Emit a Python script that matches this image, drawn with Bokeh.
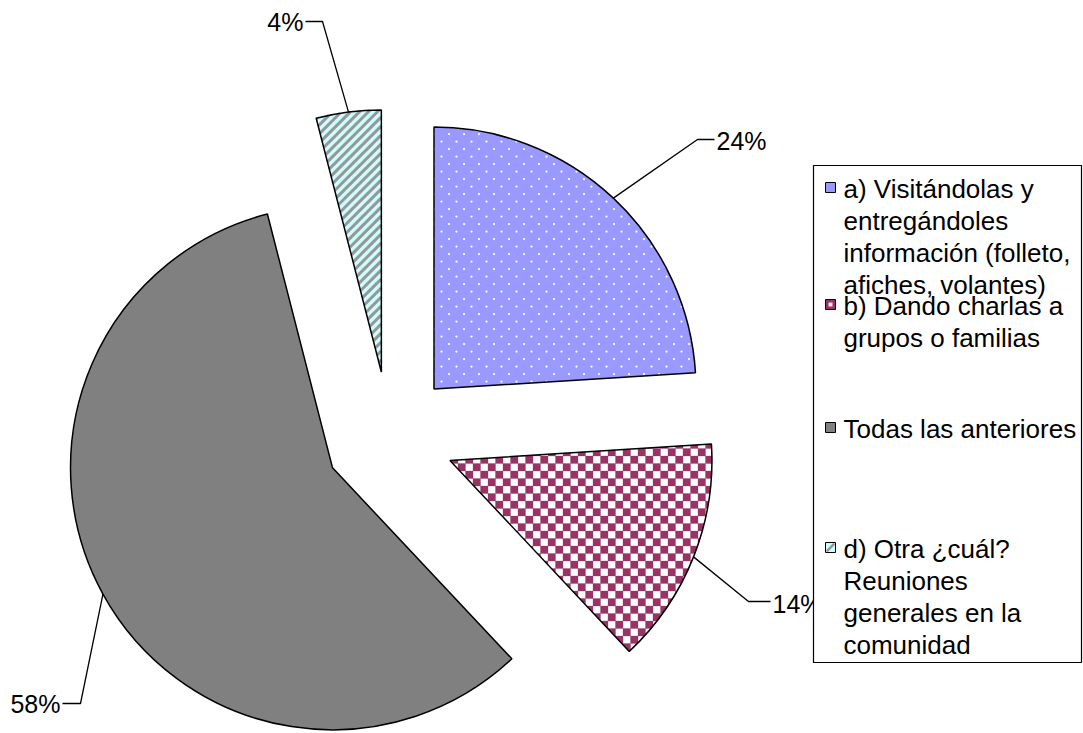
import math

from bokeh.core.properties import value
from bokeh.embed import file_html
from bokeh.models import Range1d
from bokeh.plotting import figure
from bokeh.resources import INLINE

# ---------------------------------------------------------------- data
categories = [
    "a) Visitándolas y entregándoles información (folleto, afiches, volantes)",
    "b) Dando charlas a grupos o familias",
    "Todas las anteriores",
    "d) Otra ¿cuál? Reuniones generales en la comunidad",
]
legend_labels = [
    "a) Visitándolas y\nentregándoles\ninformación (folleto,\nafiches, volantes)",
    "b) Dando charlas a\ngrupos o familias",
    "Todas las anteriores",
    "d) Otra ¿cuál?\nReuniones\ngenerales en la\ncomunidad",
]
percentages = [24, 14, 58, 4]

# ---------------------------------------------------------------- styles
slice_fill = ["#9999FF", "#FFFFFF", "#808080", "#CCFFFF"]
legend_fill = ["#9999FF", "#993366", "#808080", "#CCFFFF"]
slice_texture = ["dots", "checker", None, "stripes"]
texture_color = ["#FFFFFF", "#993366", None, "#979797"]
DOT_STEP = 7.5       # dot rows / half the in-row spacing
CHECK = 7.5          # checker square size
STRIPE_STEP = 9.0    # vertical distance between stripes
STRIPE_W = 3.0

FONT = "Liberation Sans"
LABEL_SIZE = "25px"
LEGEND_SIZE = "26px"

# ---------------------------------------------------------------- layout (pixels from top-left)
W, H = 1083, 733
PIE_CX, PIE_CY = 389, 436
RADIUS = 262
EXPLODE = 65

# leader-line elbow, leader end, and label anchor for each slice
label_elbow = [(697, 139), (748, 601), (80, 703), (322, 21)]
label_end = [(714, 139), (770, 601), (62, 703), (305, 21)]
label_anchor = [(716, 140), (772, 603), (60, 703), (303, 21)]
label_align = ["left", "left", "right", "right"]

LEGEND_BOX = (813, 165, 1081, 662)  # left, top, right, bottom
LEGEND_MARK_X = 830
LEGEND_TEXT_X = 843
LEGEND_ROW_Y = [187, 304, 427, 547]
LINE_H = 28
MARK = 10


def Y(py):
    return H - py


# ---------------------------------------------------------------- geometry helpers
def wedge_polygon(cx, cy, r, a0, a1, n=90):
    pts = [(cx, cy)]
    for k in range(n + 1):
        a = a0 + (a1 - a0) * k / n
        pts.append((cx + r * math.cos(a), cy + r * math.sin(a)))
    return pts


def cross(o, a, b):
    return (a[0] - o[0]) * (b[1] - o[1]) - (a[1] - o[1]) * (b[0] - o[0])


def inside(poly, q):
    n = len(poly)
    return all(cross(poly[i], poly[(i + 1) % n], q) >= 0 for i in range(n))


def clip_polygon(subject, clip):
    out = subject
    n = len(clip)
    for i in range(n):
        a, b = clip[i], clip[(i + 1) % n]
        if not out:
            break
        inp, out = out, []
        for j in range(len(inp)):
            cur, prev = inp[j], inp[j - 1]
            cin, pin = cross(a, b, cur) >= 0, cross(a, b, prev) >= 0
            if cin != pin:
                d1, d2 = cross(a, b, prev), cross(a, b, cur)
                t = d1 / (d1 - d2)
                out.append((prev[0] + t * (cur[0] - prev[0]), prev[1] + t * (cur[1] - prev[1])))
            if cin:
                out.append(cur)
    return out


def clip_segment(p0, p1, clip):
    t0, t1 = 0.0, 1.0
    d = (p1[0] - p0[0], p1[1] - p0[1])
    n = len(clip)
    for i in range(n):
        a, b = clip[i], clip[(i + 1) % n]
        e = (b[0] - a[0], b[1] - a[1])
        f0 = e[0] * (p0[1] - a[1]) - e[1] * (p0[0] - a[0])
        fd = e[0] * d[1] - e[1] * d[0]
        if abs(fd) < 1e-12:
            if f0 < 0:
                return None
            continue
        t = -f0 / fd
        if fd > 0:
            t0 = max(t0, t)
        else:
            t1 = min(t1, t)
        if t0 >= t1:
            return None
    return ((p0[0] + t0 * d[0], p0[1] + t0 * d[1]), (p0[0] + t1 * d[0], p0[1] + t1 * d[1]))


def bbox(poly):
    xs = [q[0] for q in poly]
    ys = [q[1] for q in poly]
    return min(xs), min(ys), max(xs), max(ys)


p = figure(
    width=W, height=H,
    x_range=Range1d(0, W), y_range=Range1d(0, H),
    x_axis_type=None, y_axis_type=None,
    toolbar_location=None, output_backend="svg",
    min_border=0, outline_line_color=None,
)
p.grid.visible = False
p.background_fill_color = "white"
p.border_fill_color = "white"

total = sum(percentages)
cum = 0.0
for i, pct in enumerate(percentages):
    t0 = cum / total * 2 * math.pi          # clockwise from 12 o'clock
    t1 = (cum + pct) / total * 2 * math.pi
    cum += pct
    mid = (t0 + t1) / 2
    # exploded slice centre (pixel space)
    sx = PIE_CX + EXPLODE * math.sin(mid)
    sy = PIE_CY - EXPLODE * math.cos(mid)
    a_start, a_end = math.pi / 2 - t1, math.pi / 2 - t0

    base = dict(x=[sx], y=[Y(sy)], radius=RADIUS, start_angle=[a_start], end_angle=[a_end])
    p.wedge(**base, fill_color=slice_fill[i], line_color=None)

    tex = slice_texture[i]
    if tex:
        poly = wedge_polygon(sx, Y(sy), RADIUS, a_start, a_end)
        x0, y0, x1, y1 = bbox(poly)
        col = texture_color[i]
        if tex == "dots":
            dx, dy = [], []
            j = 0
            yy = y0
            while yy <= y1:
                xx = x0 + (DOT_STEP if j % 2 else 0)
                while xx <= x1:
                    if inside(poly, (xx, yy)):
                        dx.append(xx)
                        dy.append(yy)
                    xx += 2 * DOT_STEP
                yy += DOT_STEP
                j += 1
            p.scatter(dx, dy, size=2.3, marker="circle", fill_color=col, line_color=None)
        elif tex == "checker":
            xs, ys = [], []
            gx0 = math.floor(x0 / CHECK)
            gy0 = math.floor(y0 / CHECK)
            for gx in range(gx0, int(x1 / CHECK) + 2):
                for gy in range(gy0, int(y1 / CHECK) + 2):
                    if (gx + gy) % 2:
                        continue
                    sq = [(gx * CHECK, gy * CHECK), ((gx + 1) * CHECK, gy * CHECK),
                          ((gx + 1) * CHECK, (gy + 1) * CHECK), (gx * CHECK, (gy + 1) * CHECK)]
                    c = clip_polygon(sq, poly)
                    if len(c) >= 3:
                        xs.append([q[0] for q in c])
                        ys.append([q[1] for q in c])
            p.patches(xs, ys, fill_color=col, line_color=col, line_width=0.3)
        elif tex == "stripes":
            xs, ys = [], []
            c = (x0 - y1) - STRIPE_STEP
            while c <= (x1 - y0) + STRIPE_STEP:
                # line x - y = c, drawn as "/"
                seg = clip_segment((c + y0 - 5, y0 - 5), (c + y1 + 5, y1 + 5), poly)
                if seg:
                    xs.append([seg[0][0], seg[1][0]])
                    ys.append([seg[0][1], seg[1][1]])
                c += STRIPE_STEP
            p.multi_line(xs, ys, line_color=col, line_width=STRIPE_W)

    p.wedge(**base, fill_color=None, line_color="black", line_width=1.5)

    # leader line from the arc midpoint to the label
    ax = sx + RADIUS * math.sin(mid)
    ay = sy - RADIUS * math.cos(mid)
    ex, ey = label_elbow[i]
    lx, ly = label_end[i]
    p.line(x=[ax, ex, lx], y=[Y(ay), Y(ey), Y(ly)], line_color="black", line_width=1.3)

    tx, ty = label_anchor[i]
    p.text(
        x=[tx], y=[Y(ty)], text=[f"{pct}%"],
        text_font=value(FONT), text_font_size=LABEL_SIZE, text_color="black",
        text_align=label_align[i], text_baseline="middle",
    )

# ---------------------------------------------------------------- legend
bx0, by0, bx1, by1 = LEGEND_BOX
p.quad(left=[bx0], right=[bx1], top=[Y(by0)], bottom=[Y(by1)],
       fill_color="white", line_color="black", line_width=1.2)

for i, lab in enumerate(legend_labels):
    cy = LEGEND_ROW_Y[i]
    mx, my = LEGEND_MARK_X, Y(cy)
    p.rect(x=[mx], y=[my], width=MARK, height=MARK,
           fill_color=legend_fill[i], line_color="black", line_width=1)
    if slice_texture[i] == "checker":
        p.rect(x=[mx], y=[my], width=MARK * 0.4, height=MARK * 0.4,
               fill_color="#F2E0EA", line_color=None)
    elif slice_texture[i] == "stripes":
        h = MARK / 2 - 1.2
        p.line(x=[mx - h, mx + h], y=[my - h, my + h],
               line_color=texture_color[i], line_width=2.5)
    p.text(
        x=[LEGEND_TEXT_X], y=[Y(cy - LINE_H / 2)], text=[lab],
        text_font=value(FONT), text_font_size=LEGEND_SIZE, text_color="black",
        text_align="left", text_baseline="top", text_line_height=LINE_H / 26,
    )

open("out.html", "w").write(file_html(p, INLINE))
